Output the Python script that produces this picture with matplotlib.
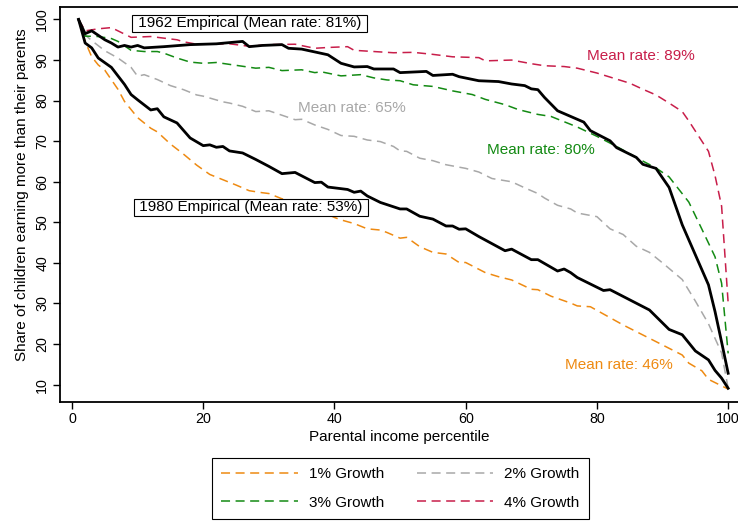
import numpy as np
import matplotlib.pyplot as plt
from matplotlib.lines import Line2D

plt.rcParams['font.family'] = ['Liberation Sans', 'DejaVu Sans']
plt.rcParams['lines.scale_dashes'] = False

# Empirical curves (percentile, share %)
emp62_x = [1, 2, 3, 5, 6, 7, 8, 9, 10, 11, 14, 18, 22, 24, 26, 27, 29, 32, 33, 35, 37, 39,
           41, 43, 45, 46, 49, 50, 54, 55, 58, 59, 62, 65, 67, 69, 70, 71, 72, 74, 76, 78,
           79, 82, 83, 86, 87, 89, 91, 93, 95, 97, 98, 99, 100]
emp62_y = [100, 96.5, 97.2, 95, 94.2, 93.2, 93.6, 93.2, 93.6, 93, 93.3, 93.8, 94, 94.3, 94.6,
           93.3, 93.6, 93.8, 92.9, 92.7, 92, 91.3, 89.2, 88.3, 88.4, 87.8, 87.8, 86.9, 87.2,
           86.2, 86.5, 85.9, 84.9, 84.7, 84.1, 83.7, 82.9, 82.7, 80.8, 77.5, 76.1, 74.7, 72.6,
           70.1, 68.4, 66, 64.3, 63.3, 58.6, 49.4, 42, 34.6, 28, 20.5, 12.8]

emp80_x = [1, 2, 3, 4, 6, 8, 9, 10, 12, 13, 14, 16, 18, 20, 21, 22, 23, 24, 26, 28, 30, 32,
           34, 37, 38, 39, 42, 43, 44, 45, 47, 50, 51, 53, 55, 57, 58, 59, 60, 62, 66, 67,
           70, 71, 74, 75, 76, 77, 81, 82, 88, 91, 93, 95, 97, 98, 99, 100]
emp80_y = [100, 94.2, 93, 90.5, 88.2, 84, 81.5, 80.2, 77.7, 78, 76, 74.5, 70.8, 68.9, 69.1,
           68.5, 68.7, 67.6, 67.1, 65.5, 63.8, 62, 62.3, 59.8, 59.9, 58.7, 58.1, 57.4, 57.7,
           56.5, 54.9, 53.3, 53.3, 51.5, 50.8, 49.1, 49.1, 48.3, 48.4, 46.5, 43, 43.4, 40.8,
           40.8, 38, 38.5, 37.6, 36.4, 33.2, 33.4, 28.4, 23.6, 22.3, 18.3, 16.1, 13.5, 11.6, 9.1]

# Counterfactual growth curves
g1_x = [1, 2, 3, 4, 5, 7, 8, 10, 12, 13, 15, 17, 19, 21, 23, 25, 27, 29, 30, 32, 34, 36,
        38, 40, 41, 43, 45, 47, 48, 50, 51, 53, 55, 57, 59, 60, 63, 65, 67, 70, 71, 73,
        76, 77, 79, 84, 89, 93, 94, 96, 97, 100]
g1_y = [100, 94.6, 90.8, 88.8, 87.5, 82.8, 79.8, 75.8, 73.2, 72.3, 69.3, 66.8, 64.1, 61.8,
        60.5, 59.2, 57.8, 57.3, 57.1, 55.8, 55.3, 54.2, 52.7, 51.2, 50.6, 49.7, 48.4, 48.1,
        47.5, 46.1, 46.3, 44, 42.6, 42.2, 40.1, 40.1, 37.6, 36.6, 35.8, 33.5, 33.4, 31.8,
        30.1, 29.4, 29.2, 24.7, 20.6, 17.3, 15.3, 13.4, 11.3, 8.9]

g2_x = [1, 2, 3, 5, 7, 9, 10, 11, 13, 15, 17, 19, 20, 23, 24, 26, 28, 30, 32, 34, 35, 37,
        39, 41, 43, 45, 47, 49, 50, 51, 53, 55, 57, 60, 62, 64, 67, 69, 71, 72, 74, 76,
        77, 80, 82, 84, 86, 88, 90, 93, 95, 97, 99, 100]
g2_y = [100, 96.2, 94.8, 92.3, 90.5, 88.2, 86, 86.4, 85.2, 83.7, 82.7, 81.4, 81.1, 79.7,
        79.4, 78.6, 77.3, 77.5, 76.4, 75.3, 75.4, 74, 72.9, 71.4, 71.2, 70.3, 69.9, 68.7,
        67.6, 67.5, 65.8, 65.2, 64.2, 63.3, 62.4, 60.8, 60, 58.5, 57.1, 56, 54.2, 53.3,
        52.3, 51.4, 48.4, 47, 44.1, 42.6, 40, 35.9, 30.6, 25, 17.8, 9.1]

g3_x = [1, 2, 4, 6, 7, 9, 11, 13, 14, 16, 18, 20, 22, 25, 28, 30, 32, 35, 37, 38, 41, 44,
        46, 48, 50, 52, 55, 58, 61, 63, 66, 68, 71, 73, 75, 77, 80, 83, 87, 89, 91, 94,
        96, 98, 99, 100]
g3_y = [100, 95.9, 95.8, 95.3, 94.6, 92.4, 92.1, 92.1, 91.7, 90.5, 89.5, 89.2, 89.4, 88.7,
        88, 88.2, 87.4, 87.6, 86.9, 87.1, 86.1, 86.4, 85.6, 85.1, 84.9, 83.9, 83.5, 82.4,
        81.5, 80.3, 79, 77.8, 76.6, 76.1, 74.8, 73.5, 71.2, 68.7, 65.1, 63.4, 61.2, 55,
        48.3, 41.5, 35, 17.7]

g4_x = [1, 2, 4, 6, 7, 9, 12, 14, 16, 17, 19, 24, 27, 30, 34, 37, 39, 42, 43, 46, 49, 52,
        55, 58, 62, 63, 67, 70, 72, 75, 77, 80, 82, 85, 87, 89, 91, 93, 94, 96, 97, 98,
        99, 100]
g4_y = [100, 97.2, 97.7, 98, 97.2, 95.6, 95.8, 95.4, 95, 94.5, 93.9, 94, 93.4, 93.8, 93.9,
        92.9, 93.1, 93.3, 92.4, 92.1, 91.8, 91.9, 91.4, 90.8, 90.6, 89.8, 90, 89.1, 88.6,
        88.4, 88, 86.8, 85.8, 84.3, 82.8, 81.4, 79.4, 77.3, 75, 70, 67.5, 61.5, 54, 30.1]

growth_labels = ['1% Growth', '2% Growth', '3% Growth', '4% Growth']
growth_colors = ['#EE8A12', '#A8A8A8', '#138A13', '#C81E4A']

fig = plt.figure(figsize=(7.38, 5.23), dpi=100)
ax = fig.add_axes([0.0813, 0.232, 0.9187, 0.7548])

dash = (6.5, 4)
series = [(g1_x, g1_y), (g2_x, g2_y), (g3_x, g3_y), (g4_x, g4_y)]
handles = []
for (xs, ys), lab, col in zip(series, growth_labels, growth_colors):
    ln, = ax.plot(xs, ys, color=col, lw=1.1, dashes=dash, label=lab, zorder=2)
    handles.append(ln)

ax.plot(emp62_x, emp62_y, color='black', lw=2.0, zorder=3)
ax.plot(emp80_x, emp80_y, color='black', lw=2.0, zorder=3)

boxstyle = dict(boxstyle='square,pad=0.1', fc='white', ec='black', lw=0.8)
ax.text(27.1, 99.1, ' 1962 Empirical (Mean rate: 81%) ', ha='center', va='center',
        fontsize=11, bbox=boxstyle, zorder=5)
ax.text(27.3, 53.7, ' 1980 Empirical (Mean rate: 53%) ', ha='center', va='center',
        fontsize=11, bbox=boxstyle, zorder=5)
ax.text(42.7, 78.2, 'Mean rate: 65%', color=growth_colors[1], ha='center', va='center', fontsize=11)
ax.text(86.7, 90.9, 'Mean rate: 89%', color=growth_colors[3], ha='center', va='center', fontsize=11)
ax.text(71.5, 67.9, 'Mean rate: 80%', color=growth_colors[2], ha='center', va='center', fontsize=11)
ax.text(83.3, 14.9, 'Mean rate: 46%', color=growth_colors[0], ha='center', va='center', fontsize=11)

ax.set_xlim(-1.83, 101.5)
ax.set_ylim(5.8, 103.1)
ax.set_xticks(range(0, 101, 20))
ax.set_yticks(range(10, 101, 10))
ax.tick_params(axis='both', direction='out', length=4.7, width=1.0, labelsize=10.3, pad=3)
plt.setp(ax.get_yticklabels(), rotation=90, va='center')
for s in ['left', 'bottom', 'top']:
    ax.spines[s].set_linewidth(1.3)
ax.spines['right'].set_visible(False)

ax.set_xlabel('Parental income percentile', fontsize=11)
ax.set_ylabel('Share of children earning more than their parents', fontsize=11)
ax.yaxis.set_label_coords(-0.046, 0.524)
ax.xaxis.set_label_coords(0.5, -0.072)

leg = fig.legend(handles=[handles[0], handles[2], handles[1], handles[3]],
                 labels=[growth_labels[0], growth_labels[2], growth_labels[1], growth_labels[3]],
                 ncol=2, loc='center', bbox_to_anchor=(0.5427, 0.0663), fontsize=11,
                 handlelength=5.0, handletextpad=0.75, columnspacing=2.1,
                 labelspacing=0.95, borderpad=0.6, fancybox=False, framealpha=1,
                 edgecolor='black')
leg.get_frame().set_linewidth(0.8)

fig.savefig('out.png', dpi=100)
